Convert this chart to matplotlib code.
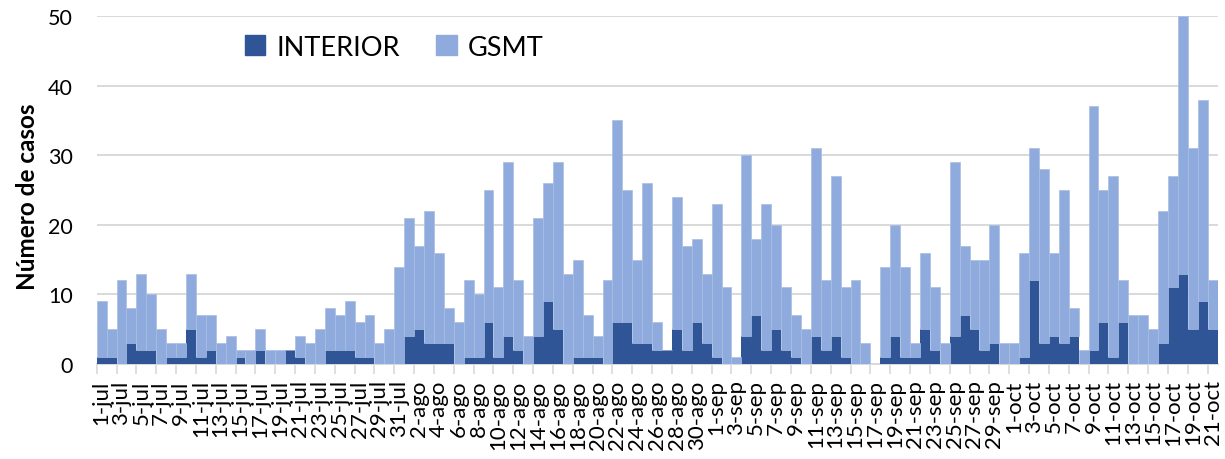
import matplotlib
matplotlib.use("Agg")
import matplotlib.pyplot as plt
from matplotlib.patches import Patch
import numpy as np

################################################################################
## Data

months = ["jul", "ago", "sep", "oct"]
month_days = [31, 31, 30, 21]

interior = [
    # julio
    1, 1, 0, 3, 2, 2, 0, 1, 1, 5, 1, 2, 0, 0, 1, 0, 2, 0, 0, 2, 1, 0, 0, 2, 2, 2, 1, 1, 0, 0, 0,
    # agosto
    4, 5, 3, 3, 3, 0, 1, 1, 6, 1, 4, 2, 0, 4, 9, 5, 0, 1, 1, 1, 0, 6, 6, 3, 3, 2, 2, 5, 2, 6, 3,
    # septiembre
    1, 0, 0, 4, 7, 2, 5, 2, 1, 0, 4, 2, 4, 1, 0, 0, 0, 1, 4, 1, 1, 5, 2, 0, 4, 7, 5, 2, 3, 0,
    # octubre
    0, 1, 12, 3, 4, 3, 4, 0, 2, 6, 1, 6, 0, 0, 0, 3, 11, 13, 5, 9, 5,
]

gsmt = [
    # julio
    8, 4, 12, 5, 11, 8, 5, 2, 2, 8, 6, 5, 3, 4, 1, 2, 3, 2, 2, 0, 3, 3, 5, 6, 5, 7, 5, 6, 3, 5, 14,
    # agosto
    17, 12, 19, 13, 5, 6, 11, 9, 19, 10, 25, 10, 4, 17, 17, 24, 13, 14, 6, 3, 12, 29, 19, 12, 23, 4, 0, 19, 15, 12, 10,
    # septiembre
    22, 11, 1, 26, 11, 21, 15, 9, 6, 5, 27, 10, 23, 10, 12, 3, 0, 13, 16, 13, 2, 11, 9, 3, 25, 10, 10, 13, 17, 3,
    # octubre
    3, 15, 19, 25, 12, 22, 4, 2, 35, 19, 26, 6, 7, 7, 5, 19, 16, 37, 26, 29, 7,
]

dates = [f"{d}-{m}" for m, n in zip(months, month_days) for d in range(1, n + 1)]

yticks = [0, 10, 20, 30, 40, 50]

dark = "#2F5597"
light = "#8FAADC"
grid = "#D9D9D9"

################################################################################
## Plot

plt.rcParams["font.family"] = ["Lato", "DejaVu Sans"]

W, H = 1225, 460
fig = plt.figure(figsize=(W / 100, H / 100), dpi=100)
ax = fig.add_axes([96.7 / W, 1 - 365 / H, (1217.5 - 96.7) / W, (365 - 17) / H])

x = np.arange(len(dates))
interior = np.array(interior)
gsmt = np.array(gsmt)

ax.bar(x, interior, width=1.0, color=dark, linewidth=0, zorder=3)
ax.bar(
    x,
    gsmt,
    bottom=interior,
    width=1.0,
    color=light,
    edgecolor="#A9BEE4",
    linewidth=0.5,
    zorder=3,
)

ax.set_xlim(-0.5, len(dates) - 0.5)
ax.set_ylim(min(yticks), max(yticks))
ax.set_yticks(yticks)
ax.yaxis.grid(color=grid, linewidth=1.4, zorder=0)
ax.set_axisbelow(True)

ax.set_xticks(x[::2], labels=dates[::2], rotation=90, fontsize=16)
ax.set_xticks(np.arange(-0.5, len(dates), 2), minor=True)
ax.tick_params(axis="x", which="major", length=0, pad=11)
ax.tick_params(axis="x", which="minor", length=7, color=grid, width=1.2)
ax.tick_params(axis="y", length=0, pad=17, labelsize=15.5)

for s in ["top", "right", "left"]:
    ax.spines[s].set_visible(False)
ax.spines["bottom"].set_color(grid)
ax.spines["bottom"].set_linewidth(1.4)

fig.text(
    28 / W,
    1 - 197 / H,
    "Número de casos",
    rotation=90,
    ha="center",
    va="center",
    fontsize=17.5,
    fontweight="bold",
)

handles = [Patch(color=dark, label="INTERIOR"), Patch(color=light, label="GSMT")]
ax.legend(
    handles=handles,
    ncol=2,
    frameon=False,
    loc="center left",
    bbox_to_anchor=(245 / W, 1 - 48 / H),
    bbox_transform=fig.transFigure,
    borderpad=0,
    borderaxespad=0,
    fontsize=19.5,
    handlelength=0.75,
    handleheight=0.75,
    handletextpad=0.4,
    columnspacing=1.35,
)

fig.savefig("out.png", dpi=100)
